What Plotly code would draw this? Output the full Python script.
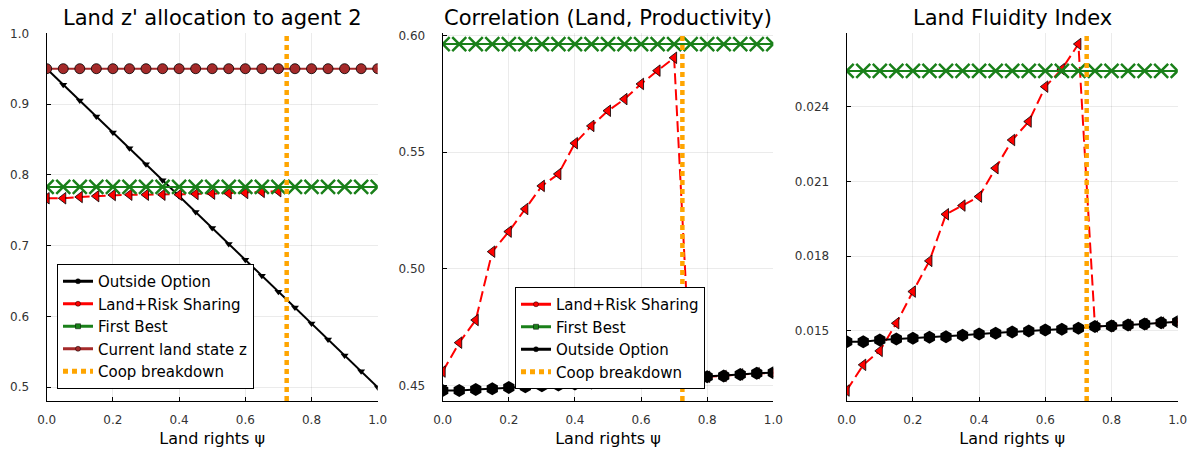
import plotly.graph_objects as go

# Land-rights grid
psi = [0.0, 0.05, 0.1, 0.15, 0.2, 0.25, 0.3, 0.35, 0.4, 0.45, 0.5,
       0.55, 0.6, 0.65, 0.7, 0.75, 0.8, 0.85, 0.9, 0.95, 1.0]
psi_breakdown = 0.725

# Panel 1: land z' allocated to agent 2
z_outside = [0.95, 0.9275, 0.905, 0.8825, 0.86, 0.8375, 0.815, 0.7925, 0.77, 0.7475, 0.725,
             0.7025, 0.68, 0.6575, 0.635, 0.6125, 0.59, 0.5675, 0.545, 0.5225, 0.5]
z_coop = [0.767, 0.767, 0.7688, 0.770, 0.7716, 0.772, 0.772, 0.772, 0.772, 0.773, 0.7735,
          0.774, 0.7745, 0.776, 0.777, None, None, None, None, None, None]
z_first_best = [0.783] * 21
z_current = [0.95] * 21

# Panel 2: correlation between land and productivity
corr_coop = [0.456, 0.4684, 0.4781, 0.5074, 0.5160, 0.5257, 0.5356, 0.5407, 0.5539, 0.5613, 0.5678,
             0.5728, 0.5793, 0.5850, 0.5905, 0.4535, 0.4538, 0.4541, 0.4548, 0.4553, 0.4555]
corr_first_best = [0.5964] * 21
corr_outside = [0.4479, 0.4479, 0.4483, 0.4486, 0.4492, 0.4495, 0.4499, 0.4503, 0.4507, 0.4511, 0.4515,
                0.4519, 0.4523, 0.4527, 0.4531, 0.4535, 0.4538, 0.4541, 0.4548, 0.4553, 0.4555]

# Panel 3: land fluidity index
fl_coop = [0.01261, 0.01364, 0.01420, 0.01531, 0.01658, 0.01781, 0.01968, 0.02003, 0.02039, 0.02153, 0.02266,
           0.02340, 0.02480, 0.02550, 0.02651, 0.01518, 0.01520, 0.01524, 0.01528, 0.01533, 0.01537]
fl_first_best = [0.02543] * 21
fl_outside = [0.01457, 0.01457, 0.01464, 0.01468, 0.01471, 0.01475, 0.01477, 0.01483, 0.01488, 0.01491, 0.01496,
              0.01500, 0.01504, 0.01507, 0.01511, 0.01518, 0.01520, 0.01524, 0.01528, 0.01533, 0.01537]

titles = ["Land z' allocation to agent 2", "Correlation (Land, Productivity)", "Land Fluidity Index"]
y_ranges = [[0.4806, 1.0], [0.4434, 0.601], [0.01219, 0.02694]]

FONT = "DejaVu Sans"
RED, GREEN, BROWN, ORANGE = "#ff0000", "#1a801a", "#a52a2a", "#ffa500"

STYLES = {
    "Outside Option": dict(color="black", dash="solid", symbol="triangle-down", size=7),
    "Outside Option hex": dict(color="black", dash="solid", symbol="hexagon", size=13),
    "Land+Risk Sharing": dict(color=RED, dash="11px,5px", symbol="triangle-left", size=10, mline=("black", 0.8)),
    "First Best": dict(color=GREEN, dash="solid", symbol="x-thin", size=14, mline=(GREEN, 2.5)),
    "Current land state z": dict(color=BROWN, dash="solid", symbol="circle", size=10, mline=("black", 0.8)),
}

fig = go.Figure()


def add(x, y, name, style, axis):
    s = STYLES[style]
    marker = dict(symbol=s["symbol"], size=s["size"], color=s["color"])
    if "mline" in s:
        marker["line"] = dict(color=s["mline"][0], width=s["mline"][1])
    fig.add_trace(go.Scatter(
        x=x, y=y, name=name, mode="lines+markers",
        line=dict(color=s["color"], width=2, dash=s["dash"]),
        marker=marker, xaxis="x" + axis, yaxis="y" + axis,
        showlegend=False, connectgaps=False))


def add_breakdown(axis, yr):
    fig.add_trace(go.Scatter(
        x=[psi_breakdown, psi_breakdown], y=yr, name="Coop breakdown", mode="lines",
        line=dict(color=ORANGE, width=4.5, dash="5px,4px"),
        xaxis="x" + axis, yaxis="y" + axis, showlegend=False))


def legend_key(name, color, legend, symbol=None, dash="solid", width=3):
    # legend-only key: a short line with a small marker, as in the panel legends
    mode = "lines+markers" if symbol else "lines"
    fig.add_trace(go.Scatter(
        x=[None], y=[None], name=name, mode=mode, legend=legend,
        line=dict(color=color, width=width, dash=dash),
        marker=dict(symbol=symbol or "circle", size=5, color=color,
                    line=dict(color="black", width=0.5)),
        showlegend=True, hoverinfo="skip"))


# Panel 1
add(psi, z_outside, "Outside Option", "Outside Option", "")
add(psi, z_coop, "Land+Risk Sharing", "Land+Risk Sharing", "")
add(psi, z_first_best, "First Best", "First Best", "")
add(psi, z_current, "Current land state z", "Current land state z", "")
add_breakdown("", y_ranges[0])

# Panel 2
add(psi, corr_coop, "Land+Risk Sharing", "Land+Risk Sharing", "2")
add(psi, corr_first_best, "First Best", "First Best", "2")
add(psi, corr_outside, "Outside Option", "Outside Option hex", "2")
add_breakdown("2", y_ranges[1])

# Panel 3
add(psi, fl_coop, "Land+Risk Sharing", "Land+Risk Sharing", "3")
add(psi, fl_first_best, "First Best", "First Best", "3")
add(psi, fl_outside, "Outside Option", "Outside Option hex", "3")
add_breakdown("3", y_ranges[2])

# Legend keys
legend_key("Outside Option", "black", "legend", "circle")
legend_key("Land+Risk Sharing", RED, "legend", "circle")
legend_key("First Best", GREEN, "legend", "square")
legend_key("Current land state z", BROWN, "legend", "circle")
legend_key("Coop breakdown", ORANGE, "legend", None, "5px,4px", 5)

legend_key("Land+Risk Sharing", RED, "legend2", "circle")
legend_key("First Best", GREEN, "legend2", "square")
legend_key("Outside Option", "black", "legend2", "circle")
legend_key("Coop breakdown", ORANGE, "legend2", None, "5px,4px", 5)

x_domains = [[46.7 / 1187, 377.7 / 1187], [442.7 / 1187, 773.3 / 1187], [846.7 / 1187, 1177.7 / 1187]]
y_domain = [1 - 401 / 450, 1 - 33.3 / 450]
y_formats = [(".1f", 0.5, 0.1), (".2f", 0.45, 0.05), (".3f", 0.015, 0.003)]

axis_common = dict(
    showline=True, linecolor="black", linewidth=1.2, mirror=False,
    showgrid=True, gridcolor="rgba(0,0,0,0.08)", gridwidth=1,
    zeroline=False, ticks="inside", ticklen=4, tickcolor="black",
    tickfont=dict(family=FONT, size=12, color="#333333"),
    automargin=False, ticklabeloverflow="allow",
)

layout = dict(
    width=1187, height=450, margin=dict(l=0, r=0, t=0, b=0),
    paper_bgcolor="white", plot_bgcolor="white",
    font=dict(family=FONT, color="black"),
)
annotations = []
for i in range(3):
    suffix = "" if i == 0 else str(i + 1)
    anchor = "x" + suffix
    layout["xaxis" + suffix] = dict(
        axis_common, domain=x_domains[i], range=[0, 1], anchor="y" + suffix,
        tick0=0, dtick=0.2, tickformat=".1f", ticklabelstandoff=7,
        title=dict(text="Land rights ψ", font=dict(family=FONT, size=16), standoff=7))
    fmt, t0, dt = y_formats[i]
    layout["yaxis" + suffix] = dict(
        axis_common, domain=y_domain, range=y_ranges[i], anchor=anchor,
        tick0=t0, dtick=dt, tickformat=fmt, ticklabelstandoff=14)
    annotations.append(dict(
        text=titles[i], xref="paper", yref="paper",
        x=sum(x_domains[i]) / 2, y=1 - 18 / 450, xanchor="center", yanchor="middle",
        showarrow=False, font=dict(family=FONT, size=21, color="black")))

legend_common = dict(
    bgcolor="white", bordercolor="black", borderwidth=1,
    font=dict(family=FONT, size=15, color="black"),
    tracegroupgap=0, yanchor="bottom", xanchor="left", itemwidth=30,
)
layout["legend"] = dict(legend_common, x=57 / 1187, y=1 - 389 / 450)
layout["legend2"] = dict(legend_common, x=515 / 1187, y=1 - 389 / 450)
layout["annotations"] = annotations

fig.update_layout(**layout)
fig.write_html("out.html")
